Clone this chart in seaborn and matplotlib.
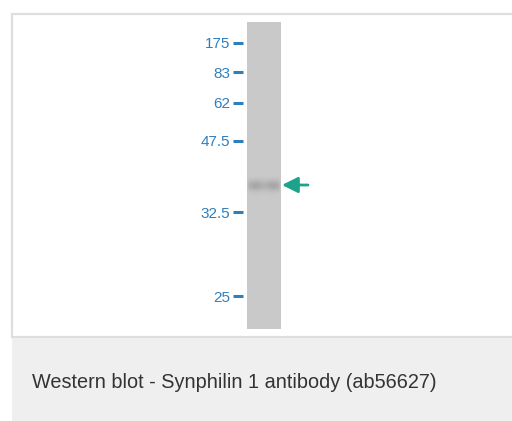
import numpy as np
import matplotlib
matplotlib.use("Agg")
import matplotlib.pyplot as plt
import matplotlib.colors as mcolors
from matplotlib.patches import Rectangle
import seaborn as sns

# marker ladder (kDa) and migration distance from top of lane (px)
marker_labels = ["175", "83", "62", "47.5", "32.5", "25"]
marker_pos = [21, 50, 81, 119, 190, 274]
# detected band
band_pos = 163
band_strength = 0.6
lane_length = 307
caption = "Western blot - Synphilin 1 antibody (ab56627)"

sns.set_theme(style="white")
plt.rcParams['font.family'] = ['Liberation Sans', 'DejaVu Sans']

W, H = 512, 421
fig = plt.figure(figsize=(W / 100, H / 100), dpi=100)

# background / frame in pixel coordinates
bg = fig.add_axes([0, 0, 1, 1])
bg.set_xlim(0, W)
bg.set_ylim(H, 0)
bg.axis('off')
bg.add_patch(Rectangle((12, 14), 510, 323, facecolor='white',
                       edgecolor='#dedede', linewidth=1.6))
bg.add_patch(Rectangle((12, 338), 510, 90, facecolor='#eeefee',
                       edgecolor='none'))
bg.text(32, 383, caption, va='center', ha='left', fontsize=14.3,
        color='#333333')


def box(x, y, w, h):
    return [x / W, 1 - (y + h) / H, w / W, h / H]


# lane image
ncols = 34
rows = np.arange(lane_length)[:, None]
cols = np.arange(ncols)[None, :]
horiz = 0.7 + 0.3 * np.sin((cols - ncols / 2) / ncols * 2 * np.pi) ** 2
horiz = horiz * np.clip(np.minimum(cols + 1, ncols - cols) / 3, 0, 1)
lane = band_strength * horiz * np.exp(-0.5 * ((rows - band_pos) / 4.0) ** 2)

cmap = mcolors.LinearSegmentedColormap.from_list("gel", ["#c9c9c9", "#8f8f8f"])
ax = fig.add_axes(box(247, 22, 34, lane_length))
sns.heatmap(lane, ax=ax, cmap=cmap, vmin=0, vmax=1, cbar=False,
            xticklabels=False, yticklabels=False)
ax.set_ylim(lane_length, 0)

blue = '#2f7fbd'
ax.set_yticks(marker_pos)
ax.set_yticklabels(marker_labels, fontsize=9)
for s in ax.spines.values():
    s.set_visible(False)
ax.spines['left'].set_position(('outward', 3))
ax.tick_params(axis='y', left=True, length=7, width=2.2, color=blue,
               labelcolor=blue, pad=2, direction='out')

ax.annotate("", xy=(ncols + 1, band_pos), xytext=(ncols + 27, band_pos),
            annotation_clip=False,
            arrowprops=dict(arrowstyle="-|>,head_length=0.8,head_width=0.4",
                            color='#1ba48b', lw=2.0, shrinkA=0, shrinkB=0))

fig.savefig("out.png", dpi=100)
